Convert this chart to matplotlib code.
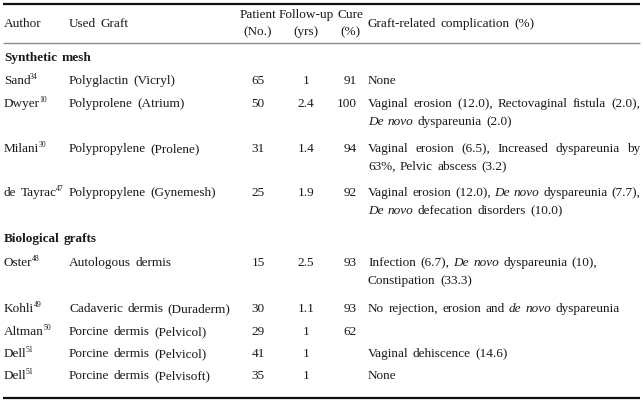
import matplotlib
matplotlib.use("Agg")
import matplotlib.pyplot as plt

# table content
sections = ["Synthetic mesh", "Biological grafts"]
authors = ["Sand", "Dwyer", "Milani", "de Tayrac",
           "Oster", "Kohli", "Altman", "Dell", "Dell"]
refs = ["34", "10", "30", "47", "48", "49", "50", "51", "51"]
grafts = ["Polyglactin (Vicryl)", "Polyprolene (Atrium)", "Polypropylene (Prolene)",
          "Polypropylene (Gynemesh)", "Autologous dermis", "Cadaveric dermis (Duraderm)",
          "Porcine dermis (Pelvicol)", "Porcine dermis (Pelvicol)", "Porcine dermis (Pelvisoft)"]
patients = ["65", "50", "31", "25", "15", "30", "29", "41", "35"]
followup = ["1", "2.4", "1.4", "1.9", "2.5", "1.1", "1", "1", "1"]
cure = ["91", "100", "94", "92", "93", "93", "62", "", ""]
# *...* marks italic words
complications = [
    ["None"],
    ["Vaginal erosion (12.0), Rectovaginal fistula (2.0),", "*De novo* dyspareunia (2.0)"],
    ["Vaginal erosion (6.5), Increased dyspareunia by", "63%, Pelvic abscess (3.2)"],
    ["Vaginal erosion (12.0), *De novo* dyspareunia (7.7),", "*De novo* defecation disorders (10.0)"],
    ["Infection (6.7), *De novo* dyspareunia (10),", "Constipation (33.3)"],
    ["No rejection, erosion and *de novo* dyspareunia"],
    [],
    ["Vaginal dehiscence (14.6)"],
    ["None"],
]
header = ["Author", "Used Graft", ["Patient", "(No.)"], ["Follow-up", "(yrs)"],
          ["Cure", "(%)"], "Graft-related complication (%)"]

W, H = 643, 403
FONT = "Liberation Serif"
FS = 9.5
GAP = 4.3
INK = "#1a1a1a"
BASE = 3.8   # baseline offset below a row's centre line

fig = plt.figure(figsize=(W / 100, H / 100), dpi=100)
ax = fig.add_axes([0, 0, 1, 1])
ax.set_xlim(0, W)
ax.set_ylim(H, 0)
ax.axis("off")
renderer = fig.canvas.get_renderer()


def width(s, style="normal", weight="normal", size=FS):
    t = ax.text(0, 0, s, fontsize=size, family=FONT, style=style, weight=weight)
    bb = t.get_window_extent(renderer)
    t.remove()
    return bb.width


def txt(x, y, s, **kw):
    kw.setdefault("fontsize", FS)
    kw.setdefault("family", FONT)
    kw.setdefault("va", "baseline")
    kw.setdefault("color", INK)
    return ax.text(x, y + BASE, s, **kw)


def words_line(x, y, line, right=None, gap=GAP, weight="normal"):
    parts = line.split("*")
    words = []
    for i, p in enumerate(parts):
        for w in p.split():
            words.append((w, i % 2 == 1))
    ws = [width(w, "italic" if it else "normal", weight) for w, it in words]
    natural = sum(ws) + gap * (len(words) - 1)
    # justify only lines that nearly fill the column
    if right is not None and len(words) > 1 and natural > 0.88 * (right - x):
        gap = (right - x - sum(ws)) / (len(words) - 1)
    for (w, it), wd in zip(words, ws):
        txt(x, y, w, style="italic" if it else "normal", weight=weight)
        x += wd + gap
    return x - gap


# rules
ax.plot([3, 640], [4, 4], color="#111111", lw=1.6, solid_capstyle="butt")
ax.plot([3, 640], [43, 43], color="#8a8a8a", lw=1.0, solid_capstyle="butt")
ax.plot([3, 640], [398, 398], color="#111111", lw=1.6, solid_capstyle="butt")

# header
x_auth, x_graft, x_pat, x_fu, x_cure, x_comp = 4, 69, 258, 306, 350, 368
words_line(x_auth, 23, header[0])
words_line(x_graft, 23, header[1])
for xc, (a, b) in zip([x_pat, x_fu, x_cure], header[2:5]):
    txt(xc, 14, a, ha="center")
    txt(xc, 31, b, ha="center")
words_line(x_comp, 23, header[5])

# body
row_y = [80, 103, 148, 192, 262, 308, 331, 353, 375]
section_y = [57, 238]
for s, y in zip(sections, section_y):
    words_line(x_auth, y, s, weight="bold")

for i in range(len(authors)):
    y = row_y[i]
    xe = words_line(x_auth, y, authors[i])
    txt(xe - 0.6, y - 5, refs[i], fontsize=5.6)
    words_line(x_graft, y, grafts[i])
    txt(x_pat, y, patients[i], ha="center")
    txt(x_fu, y, followup[i], ha="center")
    txt(357, y, cure[i], ha="right")
    for k, line in enumerate(complications[i]):
        last = k == len(complications[i]) - 1
        words_line(x_comp, y + 18 * k, line, right=None if last else 640)

fig.savefig("out.png", dpi=100)
